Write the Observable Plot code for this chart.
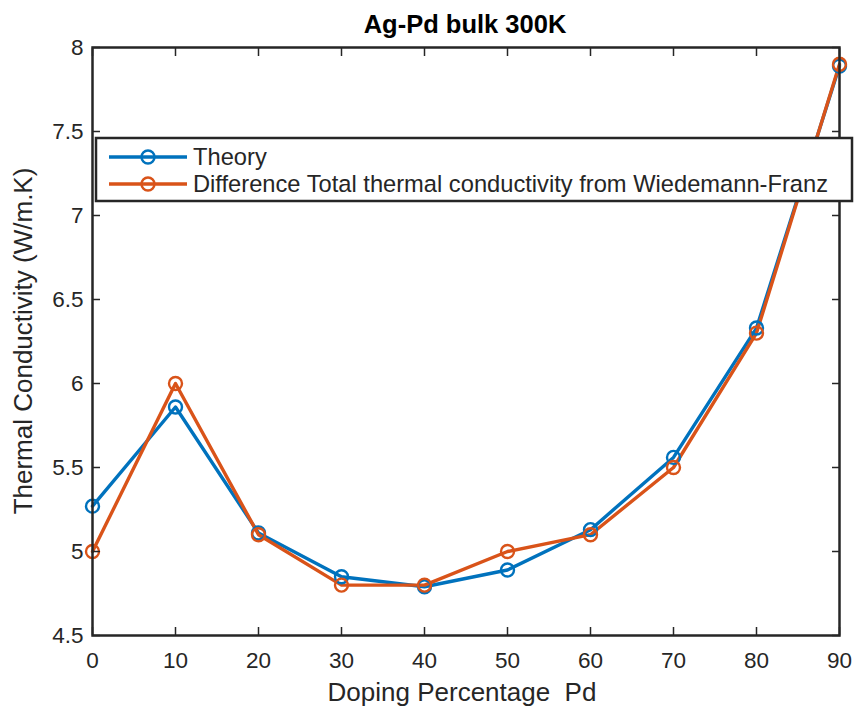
<!DOCTYPE html>
<html>
<head>
<meta charset="utf-8">
<script src="https://cdn.jsdelivr.net/npm/d3@7"></script>
<script src="https://cdn.jsdelivr.net/npm/@observablehq/plot@0.6"></script>
<style>
  html, body { margin: 0; padding: 0; background: #fff; }
  #chart { width: 857px; height: 708px; }
</style>
</head>
<body>
<div id="chart"></div>
<script>
const dopingPd = [0, 10, 20, 30, 40, 50, 60, 70, 80, 90];
const theory = [5.27, 5.86, 5.11, 4.85, 4.79, 4.89, 5.13, 5.56, 6.33, 7.89];
const wiedemannFranz = [5.0, 6.0, 5.1, 4.8, 4.8, 5.0, 5.1, 5.5, 6.3, 7.9];
const seriesNames = ["Theory", "Difference Total thermal conductivity from Wiedemann-Franz"];
const seriesColors = ["#0072BD", "#D95319"];
const xTicks = [0, 10, 20, 30, 40, 50, 60, 70, 80, 90];
const yTicks = [4.5, 5, 5.5, 6, 6.5, 7, 7.5, 8];
const titleText = "Ag-Pd bulk 300K";
const xLabel = "Doping Percentage  Pd";
const yLabel = "Thermal Conductivity (W/m.K)";

const rows = [];
dopingPd.forEach((x, i) => {
  rows.push({x, y: theory[i], s: seriesNames[0]});
});
dopingPd.forEach((x, i) => {
  rows.push({x, y: wiedemannFranz[i], s: seriesNames[1]});
});

const font = "'Liberation Sans', Arial, Helvetica, sans-serif";
const axisColor = "#262626";

const chart = Plot.plot({
  width: 857,
  height: 708,
  marginLeft: 92,
  marginRight: 18,
  marginTop: 47,
  marginBottom: 73,
  style: {fontFamily: font, background: "#fff", color: axisColor},
  x: {domain: [0, 90]},
  y: {domain: [4.5, 8]},
  color: {domain: seriesNames, range: seriesColors},
  marks: [
    Plot.line(rows, {x: "x", y: "y", z: "s", stroke: "s", strokeWidth: 3.4}),
    Plot.dot(rows, {x: "x", y: "y", stroke: "s", r: 6.5, strokeWidth: 2.4, fill: "none"}),
    Plot.axisX({ticks: xTicks, tickSize: -8, tickPadding: 25, fontSize: 22.5, label: null, stroke: axisColor, strokeWidth: 1.5, fill: axisColor}),
    Plot.axisX({anchor: "top", ticks: xTicks, tickSize: -8, tickFormat: () => "", label: null, stroke: axisColor, strokeWidth: 1.5}),
    Plot.axisY({ticks: yTicks, tickSize: -8, tickPadding: 17, fontSize: 22.5, label: null, tickFormat: d => String(d), stroke: axisColor, strokeWidth: 1.5, fill: axisColor}),
    Plot.axisY({anchor: "right", ticks: yTicks, tickSize: -8, tickFormat: () => "", label: null, stroke: axisColor, strokeWidth: 1.5}),
    Plot.frame({stroke: axisColor, strokeWidth: 2.5})
  ]
});

const svg = d3.select(chart);
svg.append("text")
  .attr("x", 465).attr("y", 33)
  .attr("text-anchor", "middle")
  .attr("font-family", font).attr("font-size", 25.5).attr("font-weight", "bold")
  .attr("fill", "#000")
  .text(titleText);
svg.append("text")
  .attr("x", 462).attr("y", 701)
  .attr("text-anchor", "middle")
  .attr("font-family", font).attr("font-size", 26)
  .attr("fill", axisColor)
  .text(xLabel);
svg.append("text")
  .attr("transform", "translate(32,341) rotate(-90)")
  .attr("text-anchor", "middle")
  .attr("font-family", font).attr("font-size", 26)
  .attr("fill", axisColor)
  .text(yLabel);

// legend
const lg = svg.append("g");
lg.append("rect")
  .attr("x", 96).attr("y", 138).attr("width", 756).attr("height", 63)
  .attr("fill", "#fff").attr("stroke", axisColor).attr("stroke-width", 2.5);
const entryY = [157, 184];
seriesNames.forEach((name, i) => {
  const yy = entryY[i];
  lg.append("line").attr("x1", 109).attr("x2", 187).attr("y1", yy).attr("y2", yy)
    .attr("stroke", seriesColors[i]).attr("stroke-width", 3.4);
  lg.append("circle").attr("cx", 148).attr("cy", yy).attr("r", 6.5)
    .attr("fill", "none").attr("stroke", seriesColors[i]).attr("stroke-width", 2.4);
  lg.append("text").attr("x", 193).attr("y", yy + 8)
    .attr("text-anchor", "start")
    .attr("font-family", font).attr("font-size", 23.7).attr("fill", axisColor)
    .text(name);
});

document.getElementById("chart").appendChild(chart);
</script>
</body>
</html>
